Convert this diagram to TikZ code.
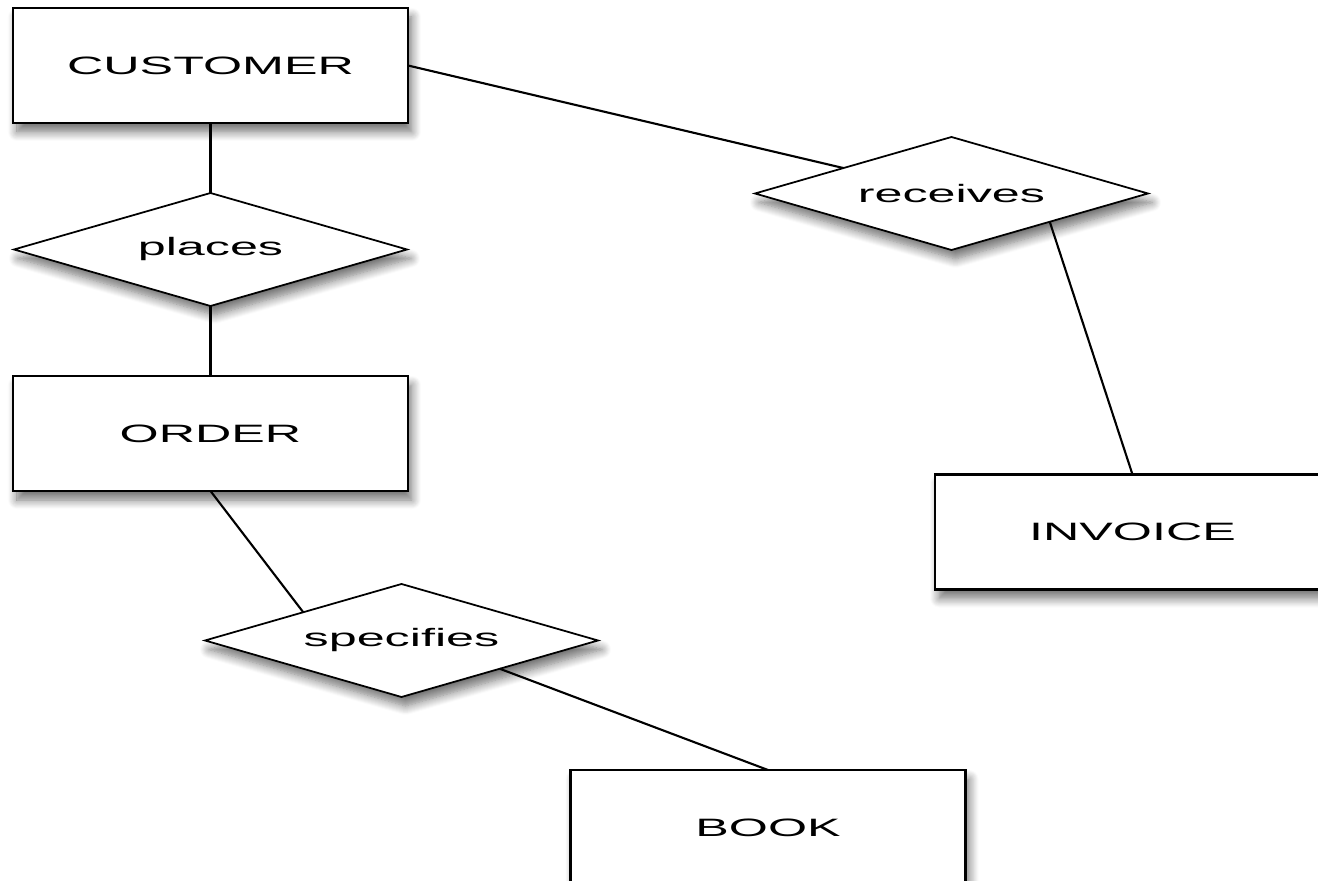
\documentclass[tikz,border=0pt]{standalone}
\usepackage{fontspec}
\newfontfamily\erfont[FakeStretch=2]{Liberation Sans}
\newcommand\erstil{\erfont\fontsize{7.15}{8.5}\selectfont}
\usetikzlibrary{positioning,calc,shapes.geometric,shadows.blur}
\tikzset{
  umbra/.style    = {blur shadow={shadow xshift=0.4mm, shadow yshift=-0.9mm,
                     shadow blur radius=0.9mm, shadow blur steps=10, shadow opacity=55}},
  entitate/.style = {draw, line width=0.8pt, fill=white, umbra, inner sep=0pt, outer sep=0pt,
                     minimum width=39.5mm, minimum height=11.5mm, font=\erstil},
  relatie/.style  = {draw, diamond, aspect=3.48, line width=0.5pt, fill=white, umbra,
                     inner sep=0pt, outer sep=0pt, minimum width=39.3mm,
                     minimum height=11.3mm, font=\erstil},
  legatura/.style = {line width=0.6pt}
}

\begin{document}
\begin{tikzpicture}[node distance=7mm]
	\useasboundingbox (0,0) rectangle (13.18,-8.81);
	\node[entitate] (cust) at (2.105,-0.655) {CUSTOMER};
	\node[relatie, below=of cust] (places) {places};
	\node[entitate, below=of places] (ord) {ORDER};
	\node[relatie] (rec) at (9.515,-1.935) {receives};
	\node[entitate] (inv) at (11.325,-5.32) {INVOICE};
	\node[relatie] (spec) at (4.015,-6.405) {specifies};
	\node[entitate] (book) at (7.68,-8.275) {BOOK};

	\draw[legatura] (cust) -- (places);
	\draw[legatura] (places) -- (ord);
	\draw[legatura] (cust.east) -- (rec);
	\draw[legatura] ($(rec.south)!0.5!(rec.east)$) -- (inv.north);
	\draw[legatura] (ord.south) -- ($(spec.west)!0.5!(spec.north)$);
	\draw[legatura] ($(spec.south)!0.5!(spec.east)$) -- (book.north);
\end{tikzpicture}
\end{document}
